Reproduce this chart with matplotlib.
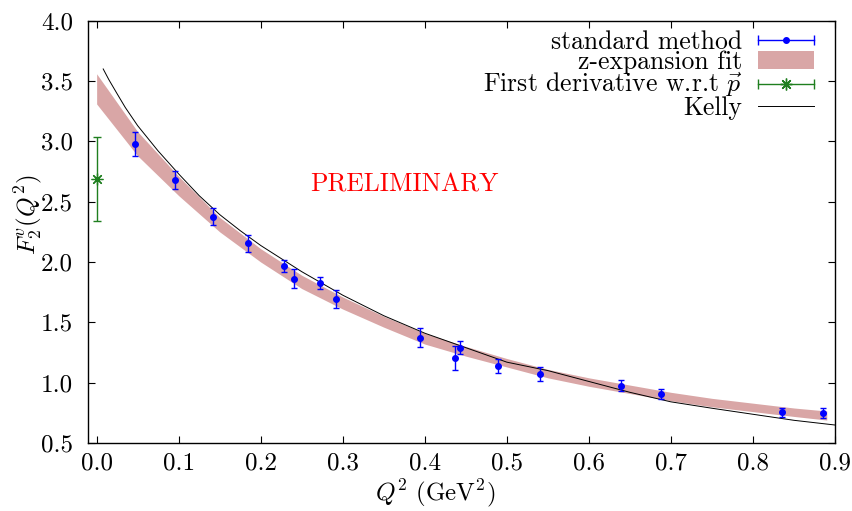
import matplotlib
matplotlib.use('Agg')
import matplotlib.pyplot as plt
from matplotlib.ticker import MultipleLocator, FormatStrFormatter
from matplotlib.legend_handler import HandlerBase
from matplotlib.lines import Line2D

plt.rcParams['font.family'] = 'cmr10'
plt.rcParams['mathtext.fontset'] = 'cm'
plt.rcParams['axes.formatter.use_mathtext'] = True

# standard method points
std_x = [0.047, 0.095, 0.142, 0.185, 0.228, 0.240, 0.272, 0.292, 0.394,
         0.437, 0.443, 0.489, 0.540, 0.639, 0.688, 0.836, 0.885]
std_y = [2.98, 2.68, 2.376, 2.155, 1.97, 1.862, 1.824, 1.691, 1.373,
         1.207, 1.29, 1.139, 1.072, 0.975, 0.904, 0.754, 0.749]
std_err = [0.10, 0.075, 0.07, 0.07, 0.05, 0.08, 0.05, 0.075, 0.08,
           0.10, 0.056, 0.06, 0.055, 0.045, 0.04, 0.035, 0.04]

# first derivative point
deriv_x = [0.0]
deriv_y = [2.688]
deriv_err = [0.345]

# z-expansion band
band_x = [0.0, 0.05, 0.10, 0.15, 0.20, 0.25, 0.30, 0.35, 0.40, 0.45,
          0.50, 0.55, 0.60, 0.65, 0.70, 0.75, 0.80, 0.85, 0.89]
band_lo = [3.31, 2.88, 2.55, 2.25, 2.00, 1.78, 1.61, 1.46, 1.32, 1.22,
           1.13, 1.04, 0.97, 0.91, 0.85, 0.80, 0.76, 0.72, 0.69]
band_hi = [3.56, 3.08, 2.71, 2.37, 2.11, 1.89, 1.71, 1.55, 1.41, 1.30,
           1.20, 1.11, 1.04, 0.98, 0.92, 0.87, 0.83, 0.79, 0.765]

# Kelly parametrisation curve
kelly_x = [0.008, 0.015, 0.025, 0.035, 0.05, 0.075, 0.10, 0.125, 0.15, 0.175,
           0.20, 0.25, 0.30, 0.35, 0.40, 0.45, 0.50, 0.55, 0.60, 0.65,
           0.70, 0.75, 0.80, 0.85, 0.90]
kelly_y = [3.60, 3.51, 3.394, 3.28, 3.13, 2.92, 2.73, 2.55, 2.393, 2.26,
           2.137, 1.92, 1.725, 1.555, 1.41, 1.29, 1.17, 1.10, 1.01, 0.92,
           0.841, 0.788, 0.738, 0.688, 0.649]

BLUE = '#0000ff'
GREEN = '#1f7f1f'
PINK = '#d9a6a6'
FS = 18


class HBarHandler(HandlerBase):
    # gnuplot style legend sample: horizontal bar with end caps
    def __init__(self, color, marker, ms):
        super().__init__()
        self.color = color
        self.marker = marker
        self.ms = ms

    def create_artists(self, legend, orig_handle, xdescent, ydescent,
                       width, height, fontsize, trans):
        y = height / 2 - ydescent
        x0, x1 = -xdescent, width - xdescent
        line = Line2D([x0, x1], [y, y], color=self.color, lw=1.0, transform=trans)
        caps = Line2D([x0, x1], [y, y], ls='', marker='|', ms=7, mew=1.0,
                      color=self.color, transform=trans)
        mid = Line2D([(x0 + x1) / 2], [y], ls='', marker=self.marker, ms=self.ms,
                     mew=1.0, color=self.color, transform=trans)
        return [line, caps, mid]


fig = plt.figure(figsize=(8.52, 5.11), dpi=100)
ax = fig.add_axes([0.1036, 0.1331, 0.8764, 0.8264])

band = ax.fill_between(band_x, band_lo, band_hi, color=PINK, lw=0, zorder=1)
kelly, = ax.plot(kelly_x, kelly_y, color='black', lw=0.7, zorder=2)
ax.errorbar(std_x, std_y, yerr=std_err, fmt='o', color=BLUE, ms=4,
            elinewidth=1.0, capsize=2.5, capthick=1.0, zorder=3)
ax.errorbar(deriv_x, deriv_y, yerr=deriv_err, fmt='none', ecolor=GREEN,
            elinewidth=1.0, capsize=3, capthick=1.0, zorder=3)
ax.plot(deriv_x, deriv_y, ls='', marker=(8, 2, 0), ms=8.5, mew=0.9, color=GREEN, zorder=4)

ax.text(0.3746, 2.638, 'PRELIMINARY', color='red', fontsize=18.5,
        ha='center', va='center')

ax.set_xlim(-0.0102, 0.9)
ax.set_ylim(0.5, 4.0)
ax.xaxis.set_major_locator(MultipleLocator(0.1))
ax.yaxis.set_major_locator(MultipleLocator(0.5))
ax.xaxis.set_major_formatter(FormatStrFormatter('%.1f'))
ax.yaxis.set_major_formatter(FormatStrFormatter('%.1f'))
ax.tick_params(direction='in', top=True, right=True, length=5, width=0.8,
               labelsize=FS)
ax.tick_params(axis='x', pad=7)
ax.tick_params(axis='y', pad=11)
for sp in ax.spines.values():
    sp.set_linewidth(1.0)

ax.set_xlabel(r'$Q^2\ (\mathrm{GeV}^2)$', fontsize=FS)
ax.set_ylabel(r'$F_2^v(Q^2)$', fontsize=FS)
ax.xaxis.set_label_coords(0.464, -0.082)
ax.yaxis.set_label_coords(-0.059, 0.54)

h_std = Line2D([], [], color=BLUE)
h_der = Line2D([], [], color=GREEN)
ax.legend([h_std, band, h_der, kelly],
          ['standard method', 'z-expansion fit', r'First derivative w.r.t $\vec{p}$', 'Kelly'],
          handler_map={h_std: HBarHandler(BLUE, 'o', 4),
                       h_der: HBarHandler(GREEN, (8, 2, 0), 8.5)},
          loc='upper right', bbox_to_anchor=(0.972, 0.978), frameon=False,
          markerfirst=False, fontsize=18.5, handlelength=2.2, handletextpad=0.6,
          labelspacing=-0.12, borderaxespad=0.0, borderpad=0.0)

fig.savefig('out.png', dpi=100)
